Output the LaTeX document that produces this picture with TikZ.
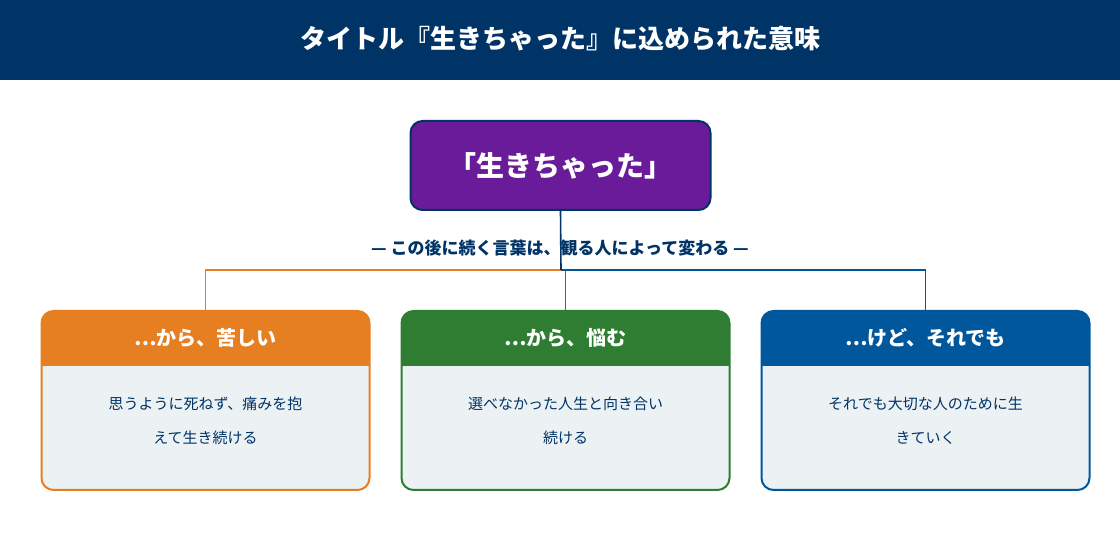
\documentclass[tikz,border=0pt]{standalone}
\usepackage{fontspec}
\setmainfont{Noto Sans CJK JP}
\usetikzlibrary{positioning}
\definecolor{navy}{HTML}{003366}
\definecolor{purp}{HTML}{6A1B9A}
\definecolor{orng}{HTML}{E67E22}
\definecolor{grn}{HTML}{2E7D32}
\definecolor{blu}{HTML}{01579B}
\definecolor{pale}{HTML}{ECF1F4}
\tikzset{
    head/.style={text=white,font=\bfseries\fontsize{10}{12}\selectfont},
    body/.style={text=navy,align=center,font=\fontsize{7.5}{17}\selectfont},
    link/.style={line width=0.8pt}
}
\begin{document}
\begin{tikzpicture}[x=0.5pt,y=-0.5pt]
    \useasboundingbox (0,0) rectangle (1120,560);
    \fill[navy] (0,0) rectangle (1120,80);
    \node[text=white,font=\bfseries\fontsize{13}{15}\selectfont] (title) at (560,39) {タイトル『生きちゃった』に込められた意味};

    \node[draw=navy,line width=1pt,fill=purp,rounded corners=6pt,minimum width=150pt,minimum height=44.5pt,
        text=white,font=\bfseries\fontsize{14}{16}\selectfont] (main) at (560.5,165.5) {「生きちゃった」};

    % cards
    \foreach \nm/\cx/\col/\hd/\txt in {
        kurushii/205.5/orng/{…から、苦しい}/{思うように死ねず、痛みを抱\\えて生き続ける},
        nayamu/565.5/grn/{…から、悩む}/{選べなかった人生と向き合い\\続ける},
        soredemo/925.5/blu/{…けど、それでも}/{それでも大切な人のために生\\きていく}}{
        \fill[pale,rounded corners=6pt] (\cx-164,311) rectangle (\cx+164,490);
        \fill[\col,rounded corners=6pt] (\cx-164,311) rectangle (\cx+164,340);
        \fill[\col] (\cx-164,330) rectangle (\cx+164,366);
        \draw[\col,line width=1pt,rounded corners=6pt] (\cx-164,311) rectangle (\cx+164,490);
        \node[head] (\nm) at (\cx,338) {\hd};
        \node[body] (\nm b) at (\cx,421) {\txt};
        \coordinate (\nm t) at (\cx,311);
    }

    \coordinate (hub) at (561,270);
    \draw[link,orng] (kurushiit) |- (hub);
    \draw[link,blu] (soredemot) |- (hub);
    \draw[link,grn] (nayamut) -- (nayamut |- hub);
    \draw[link,navy] (main.south) -- (hub);
    \node[text=navy,font=\bfseries\fontsize{8.5}{10}\selectfont] (note) at (560,248) {— この後に続く言葉は、観る人によって変わる —};
\end{tikzpicture}
\end{document}
